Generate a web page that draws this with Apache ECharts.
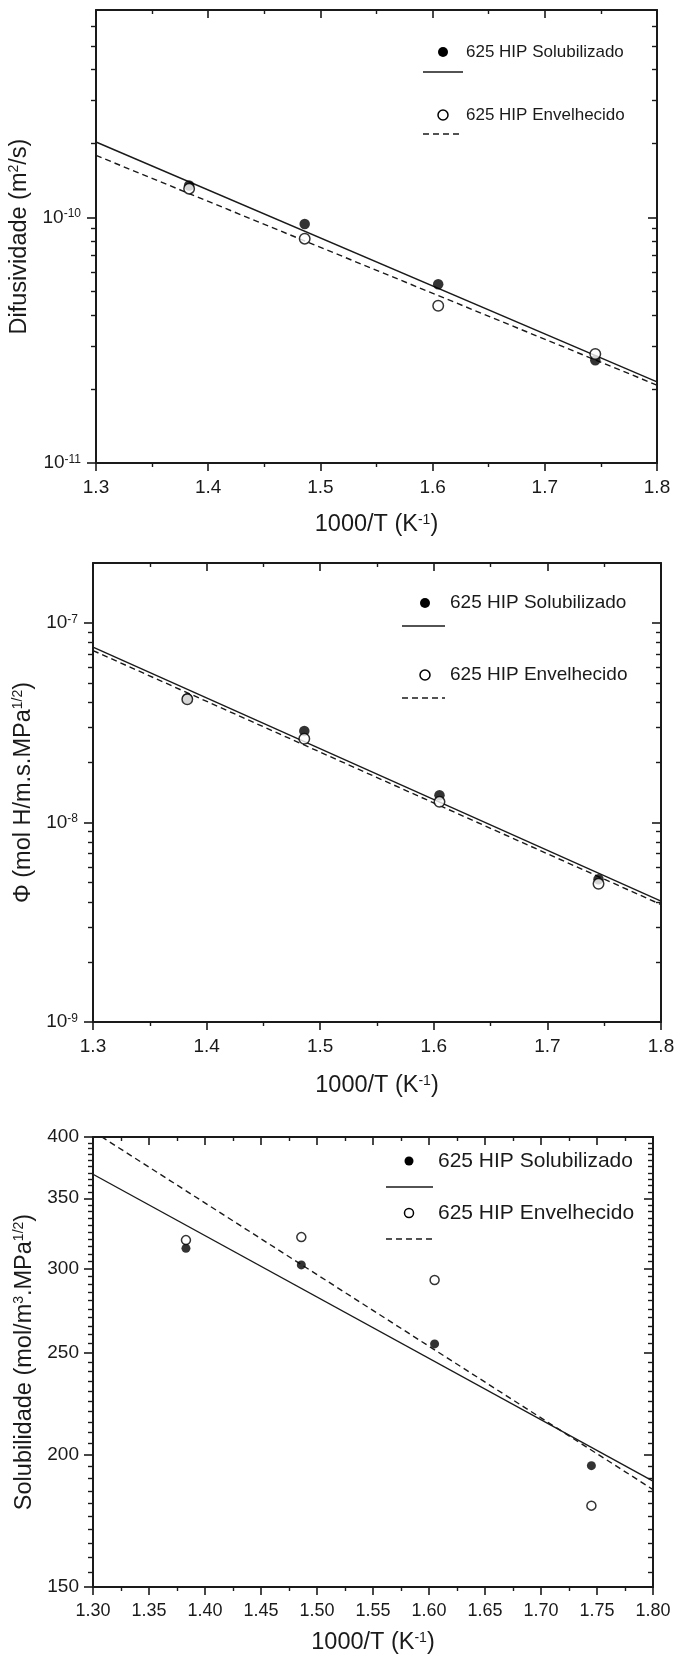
<!DOCTYPE html>
<html>
<head>
<meta charset="utf-8">
<script src="https://cdn.jsdelivr.net/npm/echarts@6/dist/echarts.min.js"></script>
<style>
  html, body { margin: 0; padding: 0; background: #ffffff; }
  #chart { width: 676px; height: 1664px; }
</style>
</head>
<body>
<div id="chart"></div>
<script>
// 1000/T (K^-1) for the four test temperatures (450, 400, 350 and 300 °C)
const invTemp = [1.383, 1.486, 1.605, 1.745];
// x range used for the Arrhenius fit lines
const fitRange = [1.3, 1.8];

// Difusividade (m²/s)
const difSolubilizado = [1.35e-10, 9.4e-11, 5.35e-11, 2.62e-11];
const difEnvelhecido = [1.31e-10, 8.2e-11, 4.37e-11, 2.78e-11];
const difFitSolubilizado = [2.03e-10, 2.14e-11];
const difFitEnvelhecido = [1.79e-10, 2.075e-11];

// Permeabilidade Φ (mol H/m.s.MPa^1/2)
const phiSolubilizado = [4.2e-8, 2.88e-8, 1.37e-8, 5.2e-9];
const phiEnvelhecido = [4.15e-8, 2.63e-8, 1.27e-8, 4.93e-9];
const phiFitSolubilizado = [7.58e-8, 4.04e-9];
const phiFitEnvelhecido = [7.28e-8, 3.88e-9];

// Solubilidade (mol/m³.MPa^1/2)
const solSolubilizado = [313.8, 302.7, 254.8, 195.4];
const solEnvelhecido = [319.5, 321.6, 292.9, 179.1];
const solFitSolubilizado = [368.8, 188.9];
const solFitEnvelhecido = [405, 185.5];

// tick values
const difMajorTicks = [1e-11, 1e-10];
const phiMajorTicks = [1e-9, 1e-8, 1e-7];
const solMajorTicks = [150, 200, 250, 300, 350, 400];

const seriesNames = ['625 HIP Solubilizado', '625 HIP Envelhecido'];

// minor ticks at 2..9 × 10^n inside a log range
function decadeMinors(min, max) {
  const out = [];
  for (let e = Math.floor(Math.log10(min)); e <= Math.ceil(Math.log10(max)); e++) {
    for (let k = 2; k <= 9; k++) {
      const v = k * Math.pow(10, e);
      if (v > min * 1.0001 && v < max * 0.9999) out.push(v);
    }
  }
  return out;
}
// minor ticks every `step` that are not major ticks
function stepMinors(min, max, step, majorStep) {
  const out = [];
  for (let v = min + step; v < max; v += step) {
    if (Math.abs(v / majorStep - Math.round(v / majorStep)) > 1e-6) out.push(v);
  }
  return out;
}

const INK = '#1a1a1a';
const FONT = '"Liberation Sans", Arial, sans-serif';

const powerLabel = v => '{b|10}{s|' + Math.round(Math.log10(v)) + '}';
const plainLabel = v => String(Math.round(v));

const panels = [
  {
    grid: { left: 96, top: 10, width: 561, height: 453 },
    xInterval: 0.1, xDigits: 1, xNameGap: 50, xLabelSize: 19, xLabelMargin: 15,
    yMin: 1e-11, yMax: 7e-10,
    major: difMajorTicks, minor: decadeMinors(1e-11, 7e-10),
    yLabel: powerLabel, yLabelMargin: 15, yLabelSize: 19,
    yName: '{n|Difusividade (m}{s|2}{n|/s)}', yNameGap: 57,
    solub: difSolubilizado, envel: difEnvelhecido,
    fitS: difFitSolubilizado, fitE: difFitEnvelhecido, symbol: 10.5
  },
  {
    grid: { left: 93, top: 563, width: 568, height: 459 },
    xInterval: 0.1, xDigits: 1, xNameGap: 52, xLabelSize: 19, xLabelMargin: 15,
    yMin: 1e-9, yMax: 2e-7,
    major: phiMajorTicks, minor: decadeMinors(1e-9, 2e-7),
    yLabel: powerLabel, yLabelMargin: 15, yLabelSize: 19,
    yName: '{n|Φ (mol H/m.s.MPa}{s|1/2}{n|)}', yNameGap: 55,
    solub: phiSolubilizado, envel: phiEnvelhecido,
    fitS: phiFitSolubilizado, fitE: phiFitEnvelhecido, symbol: 10.5
  },
  {
    grid: { left: 93, top: 1137, width: 560, height: 450 },
    xInterval: 0.05, xDigits: 2, xNameGap: 44, xLabelSize: 18, xLabelMargin: 15,
    yMin: 150, yMax: 400,
    major: solMajorTicks, minor: stepMinors(150, 400, 5, 50),
    yLabel: plainLabel, yLabelMargin: 14, yLabelSize: 19,
    yName: '{n|Solubilidade (mol/m}{s|3}{n|.MPa}{s|1/2}{n|)}', yNameGap: 52,
    solub: solSolubilizado, envel: solEnvelhecido,
    fitS: solFitSolubilizado, fitE: solFitEnvelhecido, symbol: 9
  }
];

const titleRich = {
  n: { fontSize: 23.5, fontFamily: FONT, color: INK },
  s: { fontSize: 14, fontFamily: FONT, color: INK, verticalAlign: 'top' }
};

const option = {
  backgroundColor: '#ffffff',
  animation: false,
  grid: [], xAxis: [], yAxis: [], series: [], graphic: []
};

panels.forEach((p, g) => {
  option.grid.push(Object.assign({ outerBoundsMode: 'none', containLabel: false }, p.grid));

  const axisLine = { show: true, onZero: false, lineStyle: { color: INK, width: 2 } };
  const xBase = {
    type: 'value', gridIndex: g, min: 1.3, max: 1.8, interval: p.xInterval,
    axisLine, splitLine: { show: false }
  };
  // bottom x axis with labels and title
  option.xAxis.push(Object.assign({}, xBase, {
    position: 'bottom',
    axisTick: { show: true, inside: false, length: 8, lineStyle: { color: INK, width: 1.6 } },
    minorTick: { show: true, splitNumber: 2, length: 4, lineStyle: { color: INK, width: 1.4 } },
    axisLabel: {
      show: true, margin: p.xLabelMargin, color: INK, fontFamily: FONT, fontSize: p.xLabelSize,
      formatter: v => v.toFixed(p.xDigits), showMinLabel: true, showMaxLabel: true
    },
    name: '{n|1000/T (K}{s|-1}{n|)}', nameLocation: 'middle', nameGap: p.xNameGap,
    nameTextStyle: { rich: titleRich }
  }));
  // mirrored top x axis, ticks pointing inward
  option.xAxis.push(Object.assign({}, xBase, {
    position: 'top',
    axisTick: { show: true, inside: true, length: 8, lineStyle: { color: INK, width: 1.6 } },
    minorTick: { show: true, splitNumber: 2, length: 4, lineStyle: { color: INK, width: 1.4 } },
    axisLabel: { show: false }
  }));

  const yBase = {
    type: 'log', logBase: 10, gridIndex: g, min: p.yMin, max: p.yMax,
    splitLine: { show: false }, minorTick: { show: false }
  };
  // left: major ticks + labels + title
  option.yAxis.push(Object.assign({}, yBase, {
    position: 'left', axisLine,
    axisTick: { show: true, inside: false, length: 9, customValues: p.major, lineStyle: { color: INK, width: 1.6 } },
    axisLabel: {
      show: true, customValues: p.major, margin: p.yLabelMargin, formatter: p.yLabel,
      color: INK, fontFamily: FONT, fontSize: p.yLabelSize,
      rich: {
        b: { fontSize: p.yLabelSize, fontFamily: FONT, color: INK },
        s: { fontSize: 12, fontFamily: FONT, color: INK, verticalAlign: 'top' }
      }
    },
    name: p.yName, nameLocation: 'middle', nameGap: p.yNameGap,
    nameTextStyle: { rich: titleRich }
  }));
  // left: minor ticks
  option.yAxis.push(Object.assign({}, yBase, {
    position: 'left', axisLine: { show: false },
    axisTick: { show: true, inside: false, length: 5, customValues: p.minor, lineStyle: { color: INK, width: 1.4 } },
    axisLabel: { show: false }
  }));
  // right: major ticks, inward
  option.yAxis.push(Object.assign({}, yBase, {
    position: 'right', axisLine,
    axisTick: { show: true, inside: true, length: 9, customValues: p.major, lineStyle: { color: INK, width: 1.6 } },
    axisLabel: { show: false }
  }));
  // right: minor ticks, inward
  option.yAxis.push(Object.assign({}, yBase, {
    position: 'right', axisLine: { show: false },
    axisTick: { show: true, inside: true, length: 5, customValues: p.minor, lineStyle: { color: INK, width: 1.4 } },
    axisLabel: { show: false }
  }));

  const xi = g * 2, yi = g * 4;
  const pairs = (xs, ys) => xs.map((x, i) => [x, ys[i]]);

  option.series.push({
    type: 'line', name: seriesNames[0] + ' (ajuste)', xAxisIndex: xi, yAxisIndex: yi,
    data: pairs(fitRange, p.fitS), showSymbol: false, symbol: 'none', clip: true, silent: true,
    lineStyle: { color: INK, width: 1.4, type: 'solid' }, z: 2
  });
  option.series.push({
    type: 'line', name: seriesNames[1] + ' (ajuste)', xAxisIndex: xi, yAxisIndex: yi,
    data: pairs(fitRange, p.fitE), showSymbol: false, symbol: 'none', clip: true, silent: true,
    lineStyle: { color: INK, width: 1.4, type: [6, 4] }, z: 2
  });
  option.series.push({
    type: 'scatter', name: seriesNames[0], xAxisIndex: xi, yAxisIndex: yi,
    data: pairs(invTemp, p.solub), symbol: 'circle', symbolSize: p.symbol,
    itemStyle: { color: '#000000' }, z: 3
  });
  option.series.push({
    type: 'scatter', name: seriesNames[1], xAxisIndex: xi, yAxisIndex: yi,
    data: pairs(invTemp, p.envel), symbol: 'circle', symbolSize: p.symbol,
    itemStyle: { color: '#ffffff', borderColor: '#000000', borderWidth: 1.5 }, z: 4
  });
});

// legend blocks: marker + name, then the fit line sample below
function legendBlock(cfg) {
  const items = [];
  const rows = [
    { y: cfg.y1, ly: cfg.l1, filled: true, dash: null, text: seriesNames[0] },
    { y: cfg.y2, ly: cfg.l2, filled: false, dash: [6, 4], text: seriesNames[1] }
  ];
  rows.forEach(r => {
    items.push({
      type: 'circle', shape: { cx: cfg.mx, cy: r.y, r: cfg.r },
      style: r.filled ? { fill: '#000000' } : { fill: '#ffffff', stroke: '#000000', lineWidth: 1.5 }
    });
    items.push({
      type: 'text', x: cfg.tx, y: r.y,
      style: { text: r.text, fill: INK, font: cfg.font + 'px ' + FONT, textVerticalAlign: 'middle', verticalAlign: 'middle' }
    });
    items.push({
      type: 'line', shape: { x1: cfg.lx1, y1: r.ly, x2: cfg.lx2, y2: r.ly },
      style: { stroke: INK, lineWidth: 1.4, lineDash: r.dash }
    });
  });
  return items;
}

option.graphic = [].concat(
  legendBlock({ mx: 443, tx: 466, y1: 52, l1: 72, y2: 115, l2: 134, lx1: 423, lx2: 463, r: 5, font: 17 }),
  legendBlock({ mx: 425, tx: 450, y1: 603, l1: 626, y2: 675, l2: 698, lx1: 402, lx2: 445, r: 5, font: 19 }),
  legendBlock({ mx: 409, tx: 438, y1: 1161, l1: 1187, y2: 1213, l2: 1239, lx1: 386, lx2: 433, r: 4.5, font: 21 })
);

const chart = echarts.init(document.getElementById('chart'), null, { renderer: 'canvas' });
chart.setOption(option);
</script>
</body>
</html>
